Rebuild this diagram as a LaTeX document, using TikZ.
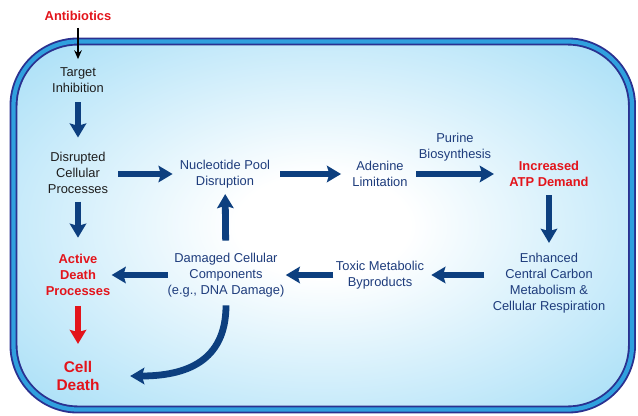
\documentclass[tikz,border=0pt]{standalone}
\usepackage{fontspec}
\setmainfont{Liberation Sans}
\usetikzlibrary{arrows.meta}
\definecolor{arrownavy}{HTML}{0D3F7F}
\definecolor{membrane}{HTML}{2A3190}
\definecolor{band}{HTML}{30A0DE}
\definecolor{cellblue}{HTML}{88D3F4}
\definecolor{deathred}{HTML}{E3141B}
\definecolor{txtblue}{HTML}{1E3C7C}
\definecolor{txtdark}{HTML}{1E1E1E}
\pgfdeclareradialshading{cellglow}{\pgfpoint{0bp}{0bp}}{color(0bp)=(white); color(7bp)=(white); color(45bp)=(cellblue); color(50bp)=(cellblue)}
\tikzset{
  plaintxt/.style={align=center, text=txtdark, inner sep=1pt, font=\fontsize{11}{13.6}\selectfont},
  bluetxt/.style={plaintxt, text=txtblue},
  redtxt/.style={plaintxt, text=deathred, font=\fontsize{11}{13.6}\selectfont\bfseries},
  flow/.style={draw=arrownavy, line width=5.8pt, -{Stealth[length=12pt,width=14pt,inset=2pt]}},
  redflow/.style={flow, draw=deathred},
}

\begin{document}
\begin{tikzpicture}[x=0.03cm, y=-0.03cm]
\useasboundingbox (0,0) rectangle (638,415);
\shade[shading=cellglow, rounded corners=55pt] (13.5,41.5) rectangle (632,409.5);
\draw[draw=membrane, line width=1.6pt, double=band, double distance=3.6pt, rounded corners=55pt] (13.5,41.5) rectangle (632,409.5);

\node[redtxt] (abx) at (78,16) {Antibiotics};
\node[plaintxt] (target) at (78,80) {Target\\Inhibition};
\node[plaintxt] (disrupt) at (78,172.5) {Disrupted\\Cellular\\Processes};
\node[bluetxt] (pool) at (225,174) {Nucleotide Pool\\Disruption};
\node[bluetxt] (adenine) at (380,174) {Adenine\\Limitation};
\node[bluetxt] (purine) at (455,147) {Purine\\Biosynthesis};
\node[redtxt] (atp) at (549,174) {Increased\\ATP Demand};
\node[bluetxt] (carbon) at (549,283) {Enhanced\\Central Carbon\\Metabolism \&\\Cellular Respiration};
\node[bluetxt] (toxic) at (380,275) {Toxic Metabolic\\Byproducts};
\node[bluetxt] (damage) at (226,275) {Damaged Cellular\\Components\\(e.g., DNA Damage)};
\node[redtxt] (active) at (78,275) {Active\\Death\\Processes};
\node[redtxt, font=\fontsize{13.2}{15.6}\selectfont\bfseries] (death) at (78,376) {Cell\\Death};

\draw[black, line width=1.2pt, -{Stealth[length=7.5pt,width=6.5pt]}, shorten <=5pt, shorten >=6pt] (abx) -- (target);
\draw[flow, shorten <=7pt, shorten >=11pt] (target) -- (disrupt);
\draw[flow, shorten <=7.5pt, shorten >=5pt] (disrupt.east |- pool.west) -- (pool.west);
\draw[flow, shorten <=7.5pt, shorten >=8.5pt] (pool) -- (adenine);
\draw[flow, shorten <=6pt, shorten >=12pt] (adenine) -- (atp);
\draw[flow, shorten <=6pt, shorten >=7.5pt] (atp) -- (carbon);
\draw[flow, shorten <=6pt, shorten >=5pt] (carbon.west |- toxic.east) -- (toxic.east);
\draw[flow, shorten <=1pt] (toxic) -- (damage);
\draw[flow, shorten <=9.5pt, shorten >=4pt] (damage) -- (pool);
\draw[flow, shorten <=-1.5pt] (damage) -- (active);
\draw[flow, shorten <=6pt, shorten >=13pt] (disrupt) -- (active);
\draw[redflow, shorten <=7.5pt, shorten >=13.5pt] (active) -- (death);
\draw[flow, shorten <=6pt, shorten >=25pt] (damage.south) .. controls (226,362) and (185,376) .. (death.east);
\end{tikzpicture}
\end{document}
